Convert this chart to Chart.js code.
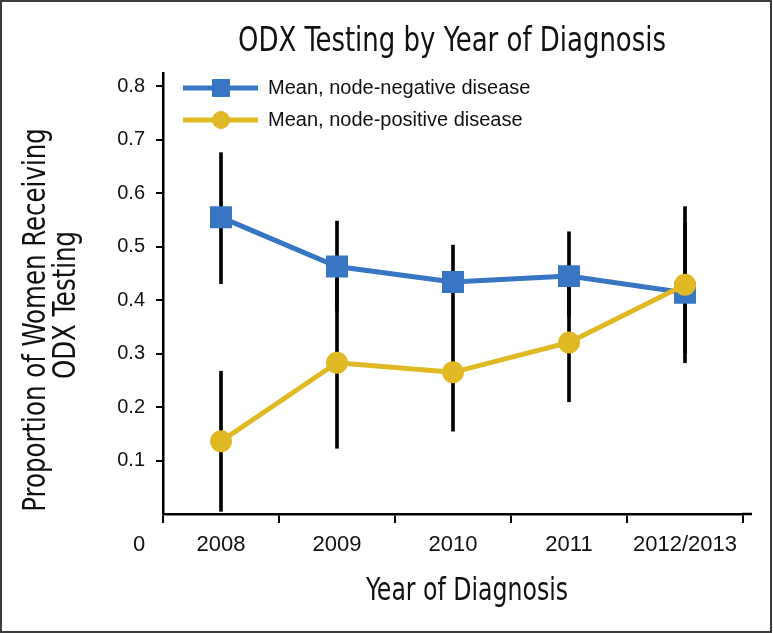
<!DOCTYPE html>
<html><head><meta charset="utf-8">
<script src="https://cdn.jsdelivr.net/npm/chart.js@4.4.0/dist/chart.umd.min.js"></script>
<style>html,body{margin:0;padding:0;background:#fff;} #wrap{width:773px;height:633px;position:relative;}</style>
</head><body><div id="wrap"><canvas id="c" width="773" height="633"></canvas></div>
<script>
const categories = ['2008', '2009', '2010', '2011', '2012/2013'];
const negMean = [0.555, 0.463, 0.434, 0.445, 0.414];
const posMean = [0.136, 0.283, 0.265, 0.321, 0.429];
const negLow  = [0.431, 0.380, 0.370, 0.370, 0.283];
const negHigh = [0.676, 0.548, 0.503, 0.528, 0.545];
const posLow  = [0.005, 0.123, 0.155, 0.210, 0.300];
const posHigh = [0.267, 0.440, 0.370, 0.430, 0.575];
const yTickValues = [0.1, 0.2, 0.3, 0.4, 0.5, 0.6, 0.7, 0.8];
const titleText = 'ODX Testing by Year of Diagnosis';
const xTitle = 'Year of Diagnosis';
const yTitle = ['Proportion of Women Receiving', 'ODX Testing'];
const negLabel = 'Mean, node-negative disease';
const posLabel = 'Mean, node-positive disease';
const legendOrder = [negLabel, posLabel];

const BLUE = '#3876c4';
const GOLD = '#dfba25';
const NARROW = "'Liberation Sans Narrow', 'DejaVu Sans Condensed', 'Arial Narrow', sans-serif";
const SANS = "'Liberation Sans', Arial, Helvetica, sans-serif";

function condensedText(ctx, text, x, y, size, sx, rot, baseline) {
  ctx.save();
  ctx.translate(x, y);
  ctx.rotate(rot);
  ctx.scale(sx, 1);
  ctx.font = size + 'px ' + NARROW;
  ctx.fillStyle = '#111';
  ctx.textAlign = 'center';
  ctx.textBaseline = baseline;
  ctx.fillText(text, 0, 0);
  ctx.restore();
}

const extras = {
  id: 'extras',
  afterDraw(chart) {
    const ctx = chart.ctx;
    const xs = chart.scales.x;
    ctx.save();
    // titles
    condensedText(ctx, titleText, 452, 51, 33, 0.875, 0, 'alphabetic');
    condensedText(ctx, xTitle, 467, 592, 32, 0.82, 0, 'middle');
    condensedText(ctx, yTitle[0], 37, 320, 32, 0.85, -Math.PI / 2, 'middle');
    condensedText(ctx, yTitle[1], 67, 305, 32, 0.85, -Math.PI / 2, 'middle');
    // origin label
    ctx.fillStyle = '#111';
    ctx.font = '22px ' + SANS;
    ctx.textAlign = 'center';
    ctx.textBaseline = 'middle';
    ctx.fillText('0', 139, 545);
    // x-axis extension past last tick
    ctx.strokeStyle = '#000';
    ctx.lineWidth = 2.5;
    ctx.beginPath();
    ctx.moveTo(xs.right - 1, xs.top);
    ctx.lineTo(xs.right + 9, xs.top);
    ctx.stroke();
    // legend
    legendOrder.forEach((lbl, i) => {
      const d = chart.data.datasets.find(ds => ds.label === lbl);
      const y = 88 + i * 32;
      ctx.strokeStyle = d.borderColor;
      ctx.lineWidth = 5;
      ctx.beginPath();
      ctx.moveTo(183, y);
      ctx.lineTo(258, y);
      ctx.stroke();
      ctx.fillStyle = d.pointBackgroundColor;
      ctx.strokeStyle = d.pointBackgroundColor;
      ctx.lineWidth = 1;
      Chart.helpers.drawPoint(ctx, {pointStyle: d.pointStyle, radius: d.pointRadius, rotation: 0, borderWidth: 1}, 221, y);
      ctx.fillStyle = '#111';
      ctx.font = '20px ' + SANS;
      ctx.textAlign = 'left';
      ctx.textBaseline = 'middle';
      ctx.fillText(d.label, 268, y);
    });
    // frame
    ctx.strokeStyle = '#3c3c3c';
    ctx.lineWidth = 2;
    ctx.strokeRect(1, 1, 770, 631);
    ctx.restore();
  }
};

new Chart(document.getElementById('c'), {
  type: 'bar',
  data: {
    labels: categories,
    datasets: [
      { type: 'line', label: posLabel, data: posMean, borderColor: GOLD, backgroundColor: GOLD,
        pointBackgroundColor: GOLD, pointBorderColor: GOLD, pointStyle: 'circle', pointRadius: 8.5,
        borderWidth: 5, tension: 0, order: 0 },
      { type: 'line', label: negLabel, data: negMean, borderColor: BLUE, backgroundColor: BLUE,
        pointBackgroundColor: BLUE, pointBorderColor: BLUE, pointStyle: 'rect', pointRadius: 12,
        borderWidth: 5, tension: 0, order: 1 },
      { type: 'bar', label: 'neg range', data: negLow.map((v, i) => [v, negHigh[i]]),
        backgroundColor: '#000', barThickness: 3, grouped: false, order: 5 },
      { type: 'bar', label: 'pos range', data: posLow.map((v, i) => [v, posHigh[i]]),
        backgroundColor: '#000', barThickness: 3, grouped: false, order: 6 }
    ]
  },
  options: {
    responsive: false,
    animation: false,
    devicePixelRatio: 1,
    layout: { padding: { left: 0, right: 30, top: 73, bottom: 0 } },
    plugins: { legend: { display: false }, tooltip: { enabled: false }, title: { display: false } },
    scales: {
      x: {
        type: 'category',
        offset: true,
        afterFit(s) { s.height = 119; },
        grid: { offset: true, drawOnChartArea: false, drawTicks: true, tickLength: 9, color: '#000', lineWidth: 2 },
        border: { display: true, color: '#000', width: 2.5 },
        ticks: { font: { family: SANS, size: 22 }, color: '#111', padding: 9, maxRotation: 0, autoSkip: false },
        title: { display: false }
      },
      y: {
        min: 0, max: 0.825,
        afterFit(s) { s.width = 163; },
        afterBuildTicks(s) { s.ticks = yTickValues.map(v => ({ value: v })); },
        grid: { drawOnChartArea: false, drawTicks: true, tickLength: 7, color: '#000', lineWidth: 2 },
        border: { display: true, color: '#000', width: 2.5 },
        ticks: { font: { family: SANS, size: 20 }, color: '#111', padding: 11, callback: v => v.toFixed(1) },
        title: { display: false }
      }
    }
  },
  plugins: [extras]
});
</script>
</body></html>
